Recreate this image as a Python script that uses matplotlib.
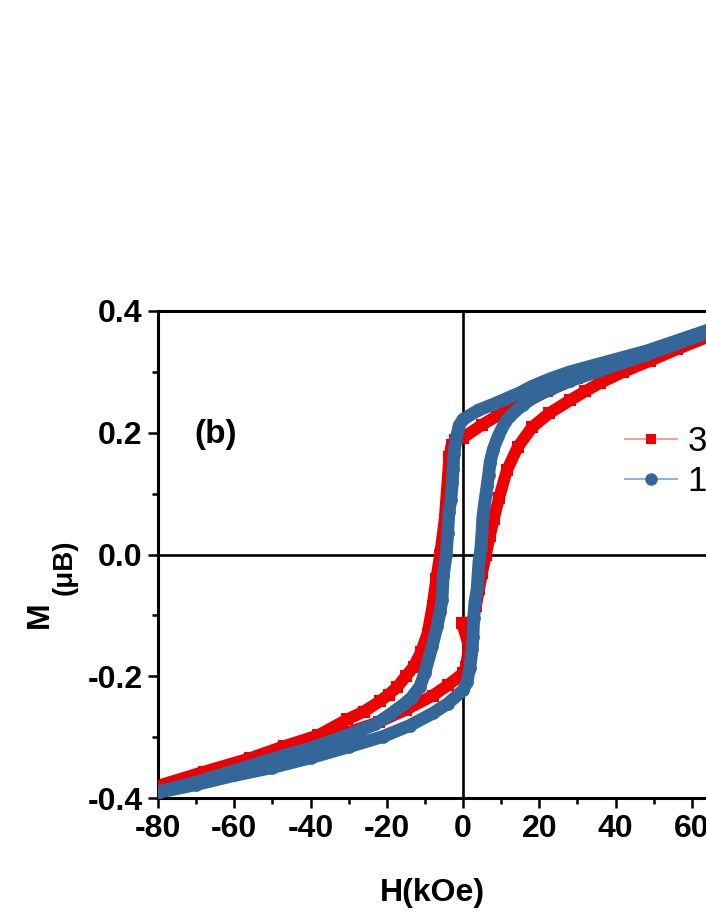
import matplotlib
matplotlib.use('Agg')
import matplotlib.pyplot as plt
from matplotlib.lines import Line2D
import numpy as np

# hysteresis loops, H in kOe, M in muB
# red series: descending branch (+80 -> -80) then ascending branch
h_red_desc = [80, 64, 48, 40, 30, 22, 14, 9, 5, 0, -2.0, -3.0, -3.6, -4.0, -4.8, -6.0, -7.0, -8.0,
              -9.3, -11, -12.9, -15, -17.3, -19.5, -21.8, -26, -30.4, -38, -47, -56, -68, -80]
m_red_desc = [0.390, 0.360, 0.328, 0.312, 0.290, 0.268, 0.243, 0.228, 0.213, 0.192, 0.188, 0.180, 0.160, 0.123, 0.057, 0.0, -0.040, -0.085,
              -0.130, -0.160, -0.184, -0.200, -0.218, -0.230, -0.241, -0.258, -0.271, -0.297, -0.315, -0.335, -0.357, -0.380]
h_red_asc = [-80, -68, -56, -47, -38, -30, -22, -15, -8, -4, 0,
             0.8, 1.6, -0.3, 2.4, 3.4, 4.2, 5.0, 6.0, 7.0, 8.1,
             9.4, 11.5, 14.4, 18.1, 22.6, 28, 32, 36, 42, 49, 56, 64, 80]
m_red_asc = [-0.383, -0.362, -0.342, -0.325, -0.308, -0.292, -0.275, -0.255, -0.232, -0.215, -0.195,
             -0.184, -0.151, -0.112, -0.112, -0.085, -0.057, -0.030, 0.0, 0.030, 0.059,
             0.092, 0.138, 0.177, 0.209, 0.232, 0.253, 0.268, 0.282, 0.300, 0.318, 0.337, 0.357, 0.390]

# blue series
h_blue_desc = [80, 64, 48, 35, 28, 23, 18, 15, 11, 8, 4, 0,
               -1.0, -1.8, -2.4, -2.6, -2.8, -3.2, -3.7, -4.0, -4.4,
               -5.2, -5.5, -6.0, -6.8, -8.1, -10.0, -11.3, -13.5, -15.5,
               -19, -23, -30, -40, -47, -60, -69, -80]
m_blue_desc = [0.398, 0.368, 0.334, 0.312, 0.300, 0.289, 0.276, 0.266, 0.255, 0.247, 0.237, 0.222,
               0.212, 0.190, 0.165, 0.140, 0.118, 0.090, 0.069, 0.036, 0.000,
               -0.036, -0.074, -0.094, -0.118, -0.151, -0.194, -0.217, -0.235, -0.246,
               -0.262, -0.279, -0.296, -0.318, -0.330, -0.355, -0.372, -0.390]
h_blue_asc = [-80, -70, -60, -50, -40, -30, -21, -14, -8, -4, 0,
              1.0, 1.8, 2.4, 2.6, 2.8, 3.1, 3.7, 4.2, 4.7, 5.0,
              5.2, 5.5, 6.0, 6.3, 6.7, 7.1, 7.9, 9.2, 11, 12.3,
              15.7, 19, 23, 28, 35, 48, 64, 80]
m_blue_asc = [-0.391, -0.378, -0.363, -0.350, -0.334, -0.316, -0.299, -0.281, -0.261, -0.245, -0.223,
              -0.210, -0.186, -0.156, -0.136, -0.105, -0.079, -0.057, -0.011, 0.011, 0.038,
              0.061, 0.077, 0.099, 0.112, 0.130, 0.151, 0.172, 0.194, 0.217, 0.227,
              0.246, 0.260, 0.272, 0.285, 0.300, 0.328, 0.364, 0.396]

labels = ['300 K', '10 K']
xticks = [-80, -60, -40, -20, 0, 20, 40, 60, 80]
yticks = [-0.4, -0.2, 0.0, 0.2, 0.4]

RED = '#ee0000'
RED_LINE = '#f28c8c'
BLUE = '#336699'
BLUE_LINE = '#86a3c6'

plt.rcParams['font.family'] = ['Liberation Sans', 'DejaVu Sans']
plt.rcParams['axes.unicode_minus'] = False

W, H = 706, 913
fig = plt.figure(figsize=(W / 100, H / 100), dpi=100)
# right end of the axes (H=80) lies beyond the figure edge, as in the original crop
ax = fig.add_axes([158 / W, 115 / H, 610 / W, 487 / H])
ax.set_xlim(-80, 80)
ax.set_ylim(-0.4, 0.4)

ax.axhline(0, color='k', lw=1.9, zorder=1)
ax.axvline(0, color='k', lw=1.9, zorder=1)

h_red = h_red_desc + h_red_asc
m_red = m_red_desc + m_red_asc
h_blue = h_blue_desc + h_blue_asc
m_blue = m_blue_desc + m_blue_asc

# dense symbols in the original merge into a solid band
ax.plot(h_red, m_red, color=RED, lw=8.6, solid_joinstyle='round', solid_capstyle='round', zorder=2)
ax.plot(h_red, m_red, ls='none', marker='s', ms=8.0, mfc=RED, mec=RED, mew=0, zorder=3)
ax.plot(h_blue, m_blue, color=BLUE, lw=9.2, solid_joinstyle='round', solid_capstyle='round', zorder=4)
ax.plot(h_blue, m_blue, ls='none', marker='o', ms=9.2, mfc=BLUE, mec=BLUE, mew=0, zorder=5)

ax.set_xticks(xticks)
ax.set_xticklabels([str(t) for t in xticks])
ax.set_yticks(yticks)
ax.set_yticklabels(['%.1f' % t for t in yticks])
ax.set_xticks(np.arange(-70, 80, 20), minor=True)
ax.set_yticks([-0.3, -0.1, 0.1, 0.3], minor=True)
ax.tick_params(which='major', direction='out', length=7.2, width=1.8, labelsize=23, pad=4)
ax.tick_params(which='minor', direction='out', length=4.3, width=1.8)
for lbl in ax.get_xticklabels() + ax.get_yticklabels():
    lbl.set_fontweight('bold')
for sp in ax.spines.values():
    sp.set_linewidth(2.2)

ax.text(-65, 0.197, '(b)', fontsize=24, fontweight='bold', ha='center', va='center')

fig.text(432 / W, 1 - 893 / H, 'H(kOe)', fontsize=23, fontweight='bold', ha='center', va='center')
fig.text(40 / W, 1 - 615 / H, 'M', fontsize=23, fontweight='bold', rotation=90, ha='center', va='center')
fig.text(65 / W, 1 - 567 / H, '(\u03bcB)', fontsize=20, fontweight='bold', rotation=90, ha='center', va='center')

handles = [Line2D([], [], color=RED_LINE, lw=1.2, marker='s', ms=7.8, mfc=RED, mec=RED, mew=0),
           Line2D([], [], color=BLUE_LINE, lw=1.2, marker='o', ms=9.0, mfc=BLUE, mec=BLUE, mew=0)]
ax.legend(handles, labels, loc='upper left', bbox_to_anchor=(625 / W, 1 - 425 / H),
          bbox_transform=fig.transFigure, frameon=False, fontsize=25, handlelength=1.5,
          handletextpad=0.3, labelspacing=0.2, borderpad=0, borderaxespad=0)

fig.savefig('out.png', dpi=100)
